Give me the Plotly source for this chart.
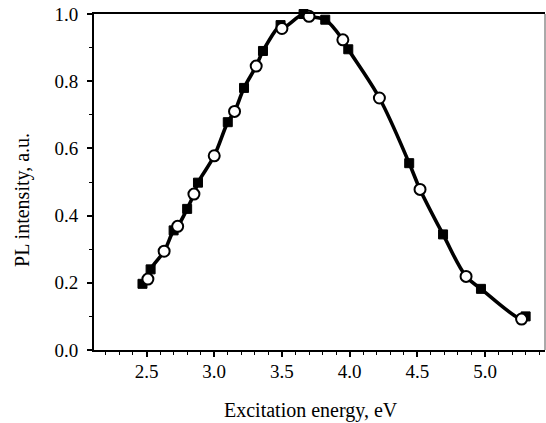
import plotly.graph_objects as go

# Filled squares series
sq_x = [2.47, 2.53, 2.70, 2.80, 2.88, 3.10, 3.22, 3.36, 3.49, 3.66, 3.82, 3.99, 4.44, 4.69, 4.97, 5.30]
sq_y = [0.197, 0.240, 0.356, 0.420, 0.498, 0.678, 0.780, 0.890, 0.967, 1.000, 0.983, 0.895, 0.556, 0.344, 0.182, 0.100]

# Open circles series
ci_x = [2.51, 2.63, 2.73, 2.85, 3.00, 3.15, 3.31, 3.50, 3.70, 3.95, 4.22, 4.52, 4.86, 5.27]
ci_y = [0.211, 0.294, 0.368, 0.464, 0.578, 0.710, 0.845, 0.957, 0.993, 0.923, 0.750, 0.478, 0.219, 0.092]

x_ticks = [2.5, 3.0, 3.5, 4.0, 4.5, 5.0]
x_tick_labels = ["2.5", "3.0", "3.5", "4.0", "4.5", "5.0"]
y_ticks = [0.0, 0.2, 0.4, 0.6, 0.8, 1.0]
y_tick_labels = ["0.0", "0.2", "0.4", "0.6", "0.8", "1.0"]

x_title = "Excitation energy, eV"
y_title = "PL intensity, a.u."

# Smooth line through all points (sorted by energy)
pts = sorted(zip(sq_x + ci_x, sq_y + ci_y))
line_x = [p[0] for p in pts]
line_y = [p[1] for p in pts]

fig = go.Figure()
fig.add_trace(go.Scatter(x=line_x, y=line_y, mode="lines",
                         line=dict(color="black", width=3.6, shape="spline", smoothing=1.0),
                         showlegend=False, hoverinfo="skip", cliponaxis=False))
fig.add_trace(go.Scatter(x=sq_x, y=sq_y, mode="markers",
                         marker=dict(symbol="square", size=9, color="black",
                                     line=dict(color="black", width=1)),
                         showlegend=False, cliponaxis=False))
fig.add_trace(go.Scatter(x=ci_x, y=ci_y, mode="markers",
                         marker=dict(symbol="circle", size=11, color="white",
                                     line=dict(color="black", width=2)),
                         showlegend=False, cliponaxis=False))

fam = "Liberation Serif, Times New Roman, serif"
tick_font = dict(family=fam, size=19, color="black")
title_font = dict(family=fam, size=20, color="black")

fig.update_layout(
    width=546, height=423,
    margin=dict(l=94, r=1, t=14, b=73, autoexpand=False),
    paper_bgcolor="white", plot_bgcolor="white",
    font=tick_font,
    showlegend=False,
    xaxis=dict(
        range=[2.112, 5.443], automargin=False,
        tickmode="array", tickvals=x_ticks, ticktext=x_tick_labels,
        ticks="outside", ticklen=5, tickwidth=1.5, tickcolor="black",
        minor=dict(dtick=0.1, tick0=2.5, ticks="outside", ticklen=3, tickwidth=1.2, tickcolor="black"),
        showline=True, linecolor="black", linewidth=2, mirror=True,
        showgrid=False, zeroline=False,
        tickfont=tick_font, ticklabeloverflow="allow", ticklabelstandoff=-2,
    ),
    yaxis=dict(
        range=[0.0, 1.0], automargin=False,
        tickmode="array", tickvals=y_ticks, ticktext=y_tick_labels,
        ticks="outside", ticklen=5, tickwidth=1.5, tickcolor="black",
        minor=dict(dtick=0.1, tick0=0, ticks="outside", ticklen=3, tickwidth=1.2, tickcolor="black"),
        showline=True, linecolor="black", linewidth=2,
        showgrid=False, zeroline=False,
        tickfont=tick_font, ticklabelstandoff=5, ticklabeloverflow="allow",
    ),
    shapes=[dict(type="line", xref="paper", yref="paper", x0=1, x1=1, y0=0, y1=1,
                 line=dict(color="#555555", width=1))],
    annotations=[
        dict(text=x_title, xref="paper", yref="paper", x=0.481, y=-0.179,
             xanchor="center", yanchor="middle", showarrow=False, font=title_font),
        dict(text=y_title, xref="paper", yref="paper", x=-0.16, y=0.446,
             xanchor="center", yanchor="middle", showarrow=False, textangle=-90, font=title_font),
    ],
)

fig.write_html("out.html", config={"displayModeBar": False},
               post_script="document.body.style.margin='0';")
